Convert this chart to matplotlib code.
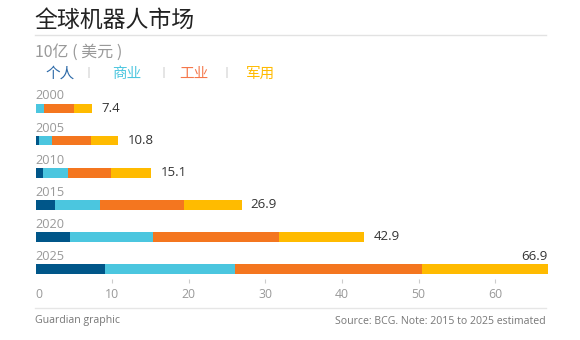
import matplotlib
matplotlib.use("Agg")
import matplotlib.pyplot as plt
import numpy as np

# data (billions USD)
years = ["2000", "2005", "2010", "2015", "2020", "2025"]
personal = [0.0, 0.4, 1.0, 2.5, 4.5, 9.1]
commercial = [1.1, 1.7, 3.2, 5.9, 10.8, 16.9]
industrial = [3.9, 5.1, 5.7, 11.0, 16.5, 24.5]
military = [2.4, 3.6, 5.2, 7.5, 11.1, 16.4]
totals = [7.4, 10.8, 15.1, 26.9, 42.9, 66.9]
xticks = [0, 10, 20, 30, 40, 50, 60]

series_names = ["个人", "商业", "工业", "军用"]
bar_colors = ["#005689", "#4bc6df", "#f4761f", "#ffbb00"]
label_colors = ["#2d6aa8", "#4bc6df", "#f5774a", "#ffbb00"]

W, H = 580, 340
cjk = ["Noto Sans CJK SC", "DejaVu Sans"]
latin = ["Open Sans", "DejaVu Sans"]


def fx(px):
    return px / W


def fy(py):
    return 1 - py / H


fig = plt.figure(figsize=(W / 100, H / 100), dpi=100)
fig.patch.set_facecolor("white")

# axes spans px 35.5 .. 548 horizontally, 85 .. 279 vertically
left, right, top, bottom = 35.5, 548.0, 85.0, 279.0
ax = fig.add_axes([fx(left), fy(bottom), fx(right - left), (bottom - top) / H])

y = np.arange(len(years))
bh = 0.3
lefts = np.zeros(len(years))
for vals, col in zip([personal, commercial, industrial, military], bar_colors):
    ax.barh(y, vals, left=lefts, height=bh, color=col, edgecolor="none")
    lefts += np.array(vals)

ax.set_xlim(0, 66.9)
ax.set_ylim(5.31, -0.73)

for i, (yr, tot) in enumerate(zip(years, totals)):
    ax.text(0, i - 0.39, yr, ha="left", va="center", fontsize=9.2,
            color="#999999", family=latin)
    if i == len(years) - 1:
        ax.text(tot, i - 0.40, f"{tot:.1f}", ha="right", va="center",
                fontsize=9.5, color="#333333", family=latin)
    else:
        ax.text(tot + 1.2, i, f"{tot:.1f}", ha="left", va="center",
                fontsize=9.5, color="#333333", family=latin)

for s in ax.spines.values():
    s.set_visible(False)
ax.set_yticks([])
ax.set_xticks(xticks)
ax.set_xticklabels([str(t) for t in xticks], family=latin, fontsize=8.8, color="#999999")
ax.tick_params(axis="x", length=3, width=0.8, color="#cccccc", pad=3.5)
ax.get_xticklabels()[0].set_ha("left")
ax.xaxis.get_major_ticks()[0].tick1line.set_visible(False)

# title and rules
fig.text(fx(34), fy(20), "全球机器人市场", family=cjk, fontsize=16.5,
         color="#222222", ha="left", va="center")
fig.add_artist(plt.Line2D([fx(35), fx(546)], [fy(35), fy(35)], color="#e2e2e2", lw=1.0))
fig.text(fx(35), fy(52), "10亿 ( 美元 )", family=cjk, fontsize=11.5,
         color="#999999", ha="left", va="center")

# legend row
leg_x = [45, 112, 179, 246]
sep_x = [88, 163, 226]
for name, col, xx in zip(series_names, label_colors, leg_x):
    fig.text(fx(xx), fy(74), name, family=cjk, fontsize=10.5, color=col,
             ha="left", va="center")
for xx in sep_x:
    fig.text(fx(xx), fy(73), "|", family=latin, fontsize=8, color="#bbbbbb",
             ha="center", va="center")

# footer
fig.add_artist(plt.Line2D([fx(35), fx(546)], [fy(308), fy(308)], color="#e6e6e6", lw=1.0))
fig.text(fx(35), fy(321), "Guardian graphic", family=latin, fontsize=7.6,
         color="#777777", ha="left", va="center")
fig.text(fx(546), fy(321), "Source: BCG. Note: 2015 to 2025 estimated", family=latin,
         fontsize=7.6, color="#777777", ha="right", va="center")

fig.savefig("out.png", dpi=100)
